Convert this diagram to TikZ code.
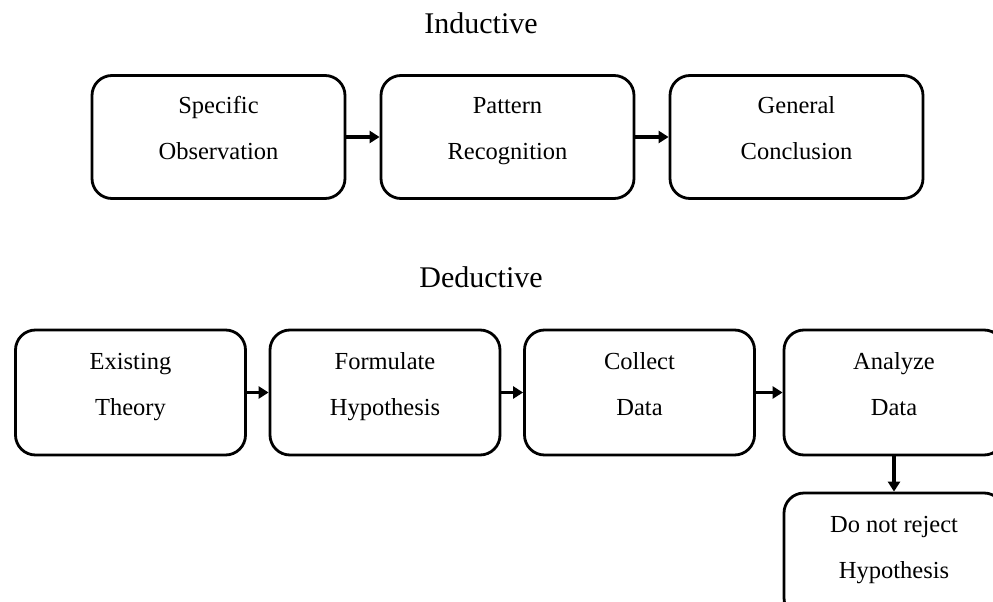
\documentclass[tikz,border=0pt]{standalone}
\usepackage{fontspec}
\setmainfont{Liberation Serif}
\usetikzlibrary{arrows.meta}

\begin{document}
\begin{tikzpicture}[x=1pt,y=-1pt,-{Triangle[length=10pt,width=12pt]},line width=3.4pt,
                    node distance=289pt,
                    step box/.style={rectangle,draw,rounded corners=20pt,line width=2.8pt,
                      minimum width=253pt,minimum height=123pt,align=center,
                      text height=63pt,text depth=18pt,
                      font=\fontsize{24.5}{46}\selectfont},
                    low box/.style={step box,minimum width=230pt,minimum height=125pt},
                    title/.style={anchor=base,font=\fontsize{30}{36}\selectfont}]
  \useasboundingbox (0,0) rectangle (993,602);

  \node[title] (ind) at (481,34) {Inductive};
  \node[step box] (spec) at (218.5,137) {Specific\\Observation};
  \node[step box] (patt) [right of=spec] {Pattern\\Recognition};
  \node[step box] (gen) [right of=patt] {General\\Conclusion};

  \node[title] (ded) at (481,287) {Deductive};
  \begin{scope}[node distance=254.5pt]
    \node[low box] (theo) at (130.5,392.5) {Existing\\Theory};
    \node[low box] (form) [right of=theo] {Formulate\\Hypothesis};
    \node[low box] (coll) [right of=form] {Collect\\Data};
    \node[low box,minimum width=220pt] (ana) [right of=coll] {Analyze\\Data};
    \node[low box,minimum width=220pt] (rej) [below of=ana,node distance=163pt] {Do not reject\\Hypothesis};
  \end{scope}

  \path
    (spec) edge (patt)
    (patt) edge (gen)
    (theo) edge (form)
    (form) edge (coll)
    (coll) edge (ana)
    (ana) edge (rej);
\end{tikzpicture}
\end{document}
